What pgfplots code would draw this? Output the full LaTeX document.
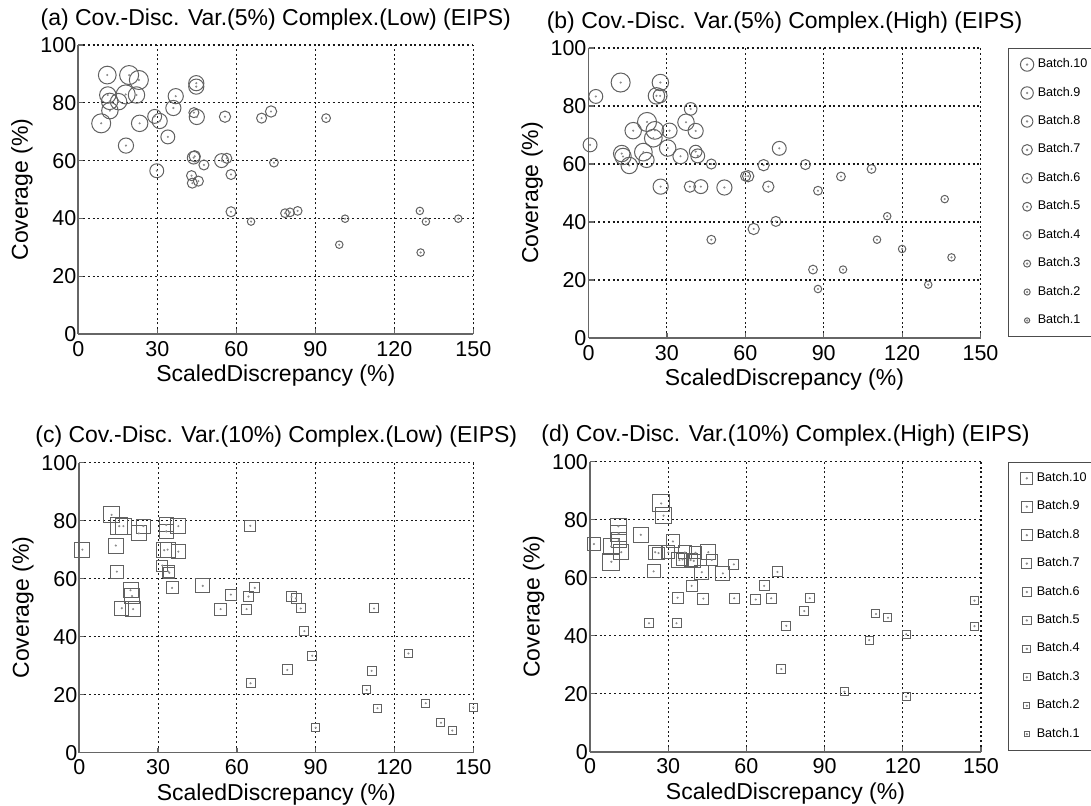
\documentclass[border=0pt]{standalone}
\usepackage{fontspec}
\setmainfont{Liberation Sans}
\usepackage{pgfplots}
\usepackage{pgfplotstable}
\pgfplotsset{compat=1.18}

% x = scaled discrepancy, y = coverage, b = batch
\pgfplotstableread{
x y b
11.0 89.6 9
19.3 89.6 10
23.0 87.9 10
11.2 82.7 8
11.9 80.5 8
15.3 80.4 8
18.0 82.9 10
22.1 82.7 8
12.0 77.3 8
8.7 72.9 10
23.3 72.9 8
18.1 65.2 7
29.0 75.3 6
30.9 73.7 7
34.0 68.2 6
29.8 56.5 6
37.0 82.3 7
36.1 78.2 7
44.8 86.8 7
44.8 85.6 7
43.9 76.6 3
45.0 75.1 7
43.8 61.0 5
44.2 61.5 4
47.7 58.5 3
43.0 54.8 3
43.3 52.2 3
45.6 52.9 3
54.4 60.0 6
56.4 60.8 3
55.7 75.2 4
58.0 55.2 3
58.0 42.3 3
65.6 38.9 1
69.6 74.7 3
73.2 77.0 4
74.3 59.3 2
78.5 41.8 2
80.4 42.1 2
83.3 42.6 2
94.1 74.7 2
101.3 39.9 1
99.1 30.9 1
129.7 42.6 1
132.0 38.9 1
130.0 28.2 1
144.3 39.9 1
}\tabA

\pgfplotstableread{
x y b
0.6 66.6 6
2.8 83.3 6
12.3 88.1 10
27.5 88.1 8
26.0 83.5 8
27.4 83.5 6
39.1 79.0 5
22.4 74.5 10
17.1 71.5 8
25.4 71.6 9
31.0 71.5 7
37.3 74.4 8
41.0 71.4 7
24.8 68.9 9
30.3 65.5 8
35.2 62.7 7
41.0 64.3 5
41.8 62.8 6
12.7 63.6 8
13.2 62.6 8
15.6 59.5 8
21.0 64.1 9
22.2 61.4 7
47.0 60.0 3
27.6 52.2 7
38.8 52.2 4
43.0 52.2 6
52.0 51.9 7
60.1 55.8 3
61.1 55.8 4
67.0 59.6 4
68.8 52.2 4
73.0 65.4 6
83.0 59.8 3
96.6 55.7 2
108.3 58.3 2
87.8 50.8 2
63.2 37.6 4
71.7 40.2 3
47.0 33.9 2
85.9 23.6 2
87.8 16.9 1
97.4 23.6 1
110.4 33.9 1
114.3 42.0 1
120.0 30.7 1
130.0 18.4 1
136.3 47.9 1
138.9 27.8 1
}\tabB

\pgfplotstableread{
x y b
1.2 70.0 8
12.3 82.0 9
15.2 78.1 10
16.8 78.1 9
24.4 78.1 7
22.7 75.6 8
13.9 71.4 8
14.3 62.4 6
19.5 56.0 8
20.1 54.0 8
16.2 49.8 7
20.5 49.5 8
33.1 78.5 7
33.1 76.3 7
37.7 78.1 8
32.3 69.8 8
33.6 70.0 8
37.7 69.3 7
31.6 64.5 4
33.9 62.4 5
34.3 62.0 4
35.3 56.8 5
47.0 57.5 7
53.8 49.5 5
57.7 54.5 4
63.7 49.5 3
64.4 53.8 3
66.8 56.8 3
65.1 78.2 4
80.8 53.7 3
82.5 53.2 3
84.3 49.7 2
85.7 41.9 2
88.7 33.4 2
79.2 28.5 3
65.2 23.9 2
90.0 8.6 1
112.2 49.7 2
111.3 28.2 2
109.4 21.6 1
113.5 15.3 1
125.3 34.2 1
131.9 17.0 1
137.7 10.3 1
142.0 7.6 1
150.0 15.6 1
}\tabC

\pgfplotstableread{
x y b
27.3 85.6 10
28.2 81.4 9
10.9 77.7 9
11.0 75.3 9
11.0 73.0 8
1.5 71.6 6
8.1 70.8 9
12.0 68.8 8
8.2 65.5 10
19.5 74.8 8
25.0 68.8 7
26.3 68.5 5
24.4 62.2 6
30.0 68.7 6
31.8 72.5 6
36.4 68.7 6
34.3 66.1 8
35.5 66.3 5
38.6 66.1 6
40.5 68.6 5
39.8 65.8 6
45.4 68.8 8
46.7 66.1 4
42.9 61.9 7
51.0 61.5 7
55.2 64.6 3
39.0 57.2 4
33.6 53.1 4
43.5 52.8 4
55.3 52.9 3
63.6 52.5 3
69.5 52.9 3
66.8 57.2 3
71.9 62.0 3
84.3 52.9 2
82.2 48.5 2
75.3 43.4 2
73.4 28.5 2
22.6 44.3 2
33.2 44.3 2
97.6 20.7 1
107.1 38.5 1
109.7 47.5 1
114.3 46.2 1
121.3 40.5 1
121.3 19.0 1
147.5 52.1 1
147.5 43.3 1
}\tabD

\newif\iflegend
% #1 table, #2 mark, #3 size base, #4 size step per batch
\newcommand{\batches}[4]{%
  \pgfplotsinvokeforeach{10,9,...,1}{%
    \addplot[only marks, mark=#2, black!62, line width=0.5pt,
      mark size={#3+#4*##1}]
      table[x=x, y=y, restrict expr to domain={\thisrow{b}}{##1:##1}] {#1};
    \iflegend\addlegendentry{Batch.##1}\fi
  }
  \addplot[only marks, mark=*, mark size=0.3pt, black!45, forget plot]
    table[x=x, y=y] {#1};
}

\pgfplotsset{
  panel/.style={
    scale only axis, height=145pt,
    xmin=0, xmax=150, ymin=0, ymax=100,
    xtick={0,30,60,90,120,150}, ytick={0,20,40,60,80,100},
    axis x line*=bottom, axis y line*=left,
    xtick pos=left, ytick pos=left,
    axis line style={black!60, line width=0.8pt},
    tick align=inside, major tick length=2.5pt,
    tick style={black!60, line width=0.6pt},
    grid=major,
    major grid style={black!90, line width=0.55pt, dash pattern=on 1pt off 1.4pt},
    /pgf/number format/assume math mode=true,
    tick label style={font=\fontsize{10.75}{12}\selectfont},
    yticklabel style={xshift=2.5pt},
    label style={font=\fontsize{11.5}{13}\selectfont},
    ylabel style={yshift=-3pt},
    xlabel style={yshift=2.5pt},
    title style={font=\fontsize{11.5}{13}\selectfont, yshift=-2pt},
    xlabel={ScaledDiscrepancy (\%)}, ylabel={Coverage (\%)},
    legend cell align=left,
    legend style={at={(1.07,1)}, anchor=north west,
      font=\fontsize{6.3}{7.5}\selectfont, draw=black!70, line width=0.5pt,
      row sep=4.15pt, inner xsep=6pt, inner ysep=3pt},
    legend image code/.code={%
      \draw[##1, every mark/.append style={scale=0.7}] plot coordinates {(0cm,0cm)};
      \fill[black!45] (0cm,0cm) circle (0.3pt);},
  },
}

\begin{document}
\begin{tikzpicture}
\useasboundingbox (0,0) rectangle (545.5pt,-402.5pt);

\begin{axis}[panel, width=197.5pt, height=144.5pt, at={(39.15pt,-167pt)}, anchor=south west,
  title={(a) Cov.-Disc. Var.(5\%) Complex.(Low) (EIPS)}]
  \legendfalse
  \batches{\tabA}{o}{1.555pt}{0.32pt}
\end{axis}

\begin{axis}[panel, width=196pt, at={(294.25pt,-169pt)}, anchor=south west,
  title={(b) Cov.-Disc. Var.(5\%) Complex.(High) (EIPS)}]
  \legendtrue
  \batches{\tabB}{o}{1.555pt}{0.32pt}
\end{axis}

\begin{axis}[panel, width=197pt, at={(39.65pt,-376.3pt)}, anchor=south west,
  title={(c) Cov.-Disc. Var.(10\%) Complex.(Low) (EIPS)}]
  \legendfalse
  \batches{\tabC}{square}{1.75pt}{0.25pt}
\end{axis}

\begin{axis}[panel, width=195.5pt, at={(295pt,-375.85pt)}, anchor=south west,
  title={(d) Cov.-Disc. Var.(10\%) Complex.(High) (EIPS)}]
  \legendtrue
  \batches{\tabD}{square}{1.75pt}{0.25pt}
\end{axis}
\end{tikzpicture}
\end{document}
